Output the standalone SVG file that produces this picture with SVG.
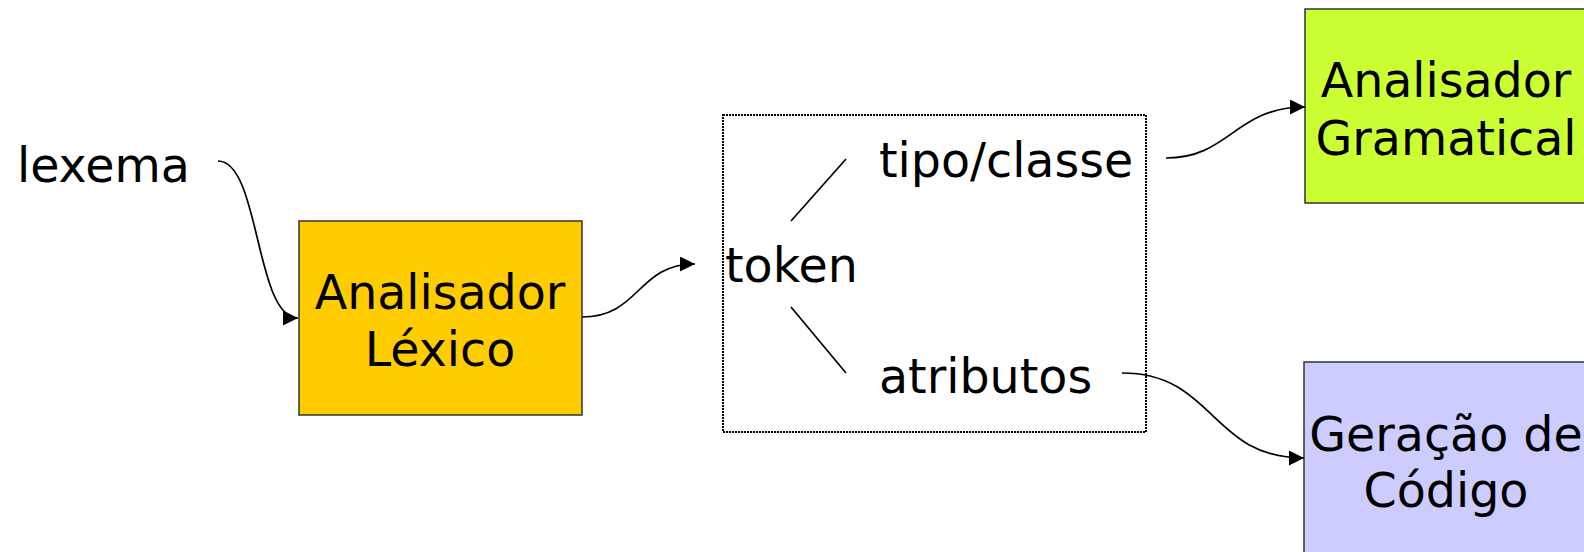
<svg xmlns="http://www.w3.org/2000/svg" width="1584" height="552" viewBox="0 0 1584 552">
<defs>
<style>
text{font-family:"DejaVu Sans","Liberation Sans",sans-serif;font-size:47.5px;fill:#000}
.box{stroke:#333;stroke-width:1.5}
.c{text-anchor:middle}
.conn path{fill:none;stroke:#000;stroke-width:1.7}
.conn line{stroke:#000;stroke-width:1.7}
</style>
<marker id="ah" markerUnits="userSpaceOnUse" markerWidth="17" markerHeight="16" refX="15" refY="7.5" orient="auto">
<path d="M0,0 L15,7.5 L0,15 z" fill="#000"/>
</marker>
</defs>
<rect width="1584" height="552" fill="#fff"/>
<g id="lexema"><text x="17" y="182">lexema</text></g>
<g id="lexico">
<rect class="box" x="299" y="221" width="283" height="194" fill="#FFCC00"/>
<text class="c" x="440" y="309">Analisador</text>
<text class="c" x="440" y="366">Léxico</text>
</g>
<g id="token">
<rect x="723" y="115" width="423" height="317" fill="none" stroke="#000" stroke-width="2" stroke-dasharray="2,1"/>
<text x="725" y="282">token</text>
<text x="879" y="177">tipo/classe</text>
<text x="879" y="393">atributos</text>
</g>
<g id="gramatical">
<rect class="box" x="1305" y="9" width="283" height="194" fill="#CCFF33"/>
<text class="c" x="1446" y="97">Analisador</text>
<text class="c" x="1446" y="155">Gramatical</text>
</g>
<g id="geracao">
<rect class="box" x="1304" y="362" width="284" height="194" fill="#CCCCFF"/>
<text class="c" x="1446" y="451">Geração de</text>
<text class="c" x="1446" y="507">Código</text>
</g>
<g class="conn">
<path d="M218,161 C260,161 255,318 298,318" marker-end="url(#ah)"/>
<path d="M582,317 C640,317 637,264 695,264" marker-end="url(#ah)"/>
<path d="M1166,158 C1230,158 1235,107 1305,107" marker-end="url(#ah)"/>
<path d="M1122,373 C1215,373 1210,458 1304,458" marker-end="url(#ah)"/>
<line x1="791" y1="221" x2="846" y2="159"/>
<line x1="791" y1="307" x2="846" y2="373"/>
</g>
</svg>
